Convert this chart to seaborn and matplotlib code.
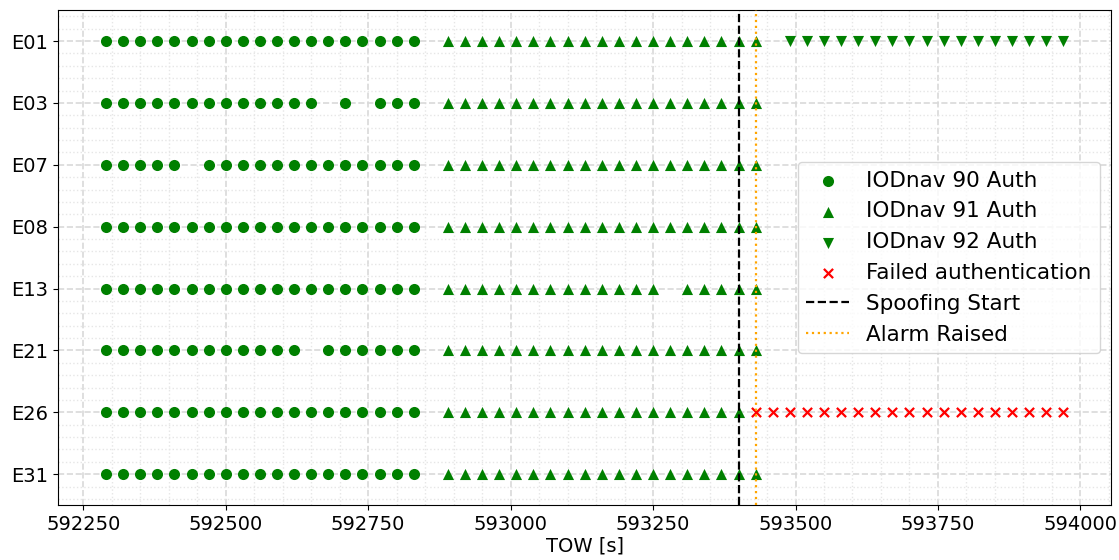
import numpy as np
import pandas as pd
import seaborn as sns
from matplotlib import pyplot as plt

# satellites, top to bottom
sats = ["E01", "E03", "E07", "E08", "E13", "E21", "E26", "E31"]

# TOW epochs [s] of each authentication batch
iod90_tow = [592290, 592320, 592350, 592380, 592410, 592440, 592470, 592500, 592530, 592560,
             592590, 592620, 592650, 592680, 592710, 592740, 592770, 592800, 592830]
iod91_tow = [592890, 592920, 592950, 592980, 593010, 593040, 593070, 593100, 593130, 593160,
             593190, 593220, 593250, 593280, 593310, 593340, 593370, 593400, 593430]
iod92_tow = [593490, 593520, 593550, 593580, 593610, 593640, 593670, 593700, 593730, 593760,
             593790, 593820, 593850, 593880, 593910, 593940, 593970]
failed_tow = [593430, 593460, 593490, 593520, 593550, 593580, 593610, 593640, 593670, 593700,
              593730, 593760, 593790, 593820, 593850, 593880, 593910, 593940, 593970]

# epochs with no authentication
iod90_missing = {"E03": [592680, 592740], "E07": [592440], "E21": [592650]}
iod91_missing = {"E13": [593280], "E26": [593430]}
iod92_sats = ["E01"]
failed_sats = ["E26"]

spoof_start = 593400
alarm_raised = 593430

rows = []
for s in sats:
    for t in iod90_tow:
        if t not in iod90_missing.get(s, []):
            rows.append((t, s, "IODnav 90 Auth"))
    for t in iod91_tow:
        if t not in iod91_missing.get(s, []):
            rows.append((t, s, "IODnav 91 Auth"))
    if s in iod92_sats:
        for t in iod92_tow:
            rows.append((t, s, "IODnav 92 Auth"))
    if s in failed_sats:
        for t in failed_tow:
            rows.append((t, s, "Failed authentication"))
df = pd.DataFrame(rows, columns=["TOW", "sat", "kind"])
df["y"] = df["sat"].map({s: i for i, s in enumerate(sats)})

styles = {
    "IODnav 90 Auth": dict(marker="o", color="green", s=64, linewidth=0),
    "IODnav 91 Auth": dict(marker="^", color="green", s=64, linewidth=0),
    "IODnav 92 Auth": dict(marker="v", color="green", s=64, linewidth=0),
    "Failed authentication": dict(marker="x", color="red", s=44, linewidth=1.6),
}

fig, ax = plt.subplots(figsize=(11.19, 5.6), dpi=100)
for kind, kw in styles.items():
    sub = df[df["kind"] == kind]
    sns.scatterplot(data=sub, x="TOW", y="y", ax=ax, label=kind, legend=False, zorder=3, **kw)

ax.axvline(spoof_start, color="black", linestyle="--", linewidth=1.6, label="Spoofing Start", zorder=4)
ax.axvline(alarm_raised, color="orange", linestyle=":", linewidth=1.6, label="Alarm Raised", zorder=4)

ax.set_yticks(range(len(sats)))
ax.set_yticklabels(sats)
ax.set_ylim(len(sats) - 0.5, -0.5)
ax.set_ylabel("")
ax.set_xlabel("TOW [s]", fontsize=14, labelpad=2)
ax.tick_params(labelsize=14)
ax.minorticks_on()
ax.tick_params(which="minor", length=0)
ax.grid(True, which="major", linestyle="--", linewidth=1.2, color="#d9d9d9")
ax.grid(True, which="minor", linestyle=":", linewidth=1.0, color="#e6e6e6")
ax.set_axisbelow(True)

ax.legend(loc="center right", fontsize=15.5)
fig.subplots_adjust(left=0.052, right=0.993, top=0.982, bottom=0.098)
fig.savefig("out.png")
